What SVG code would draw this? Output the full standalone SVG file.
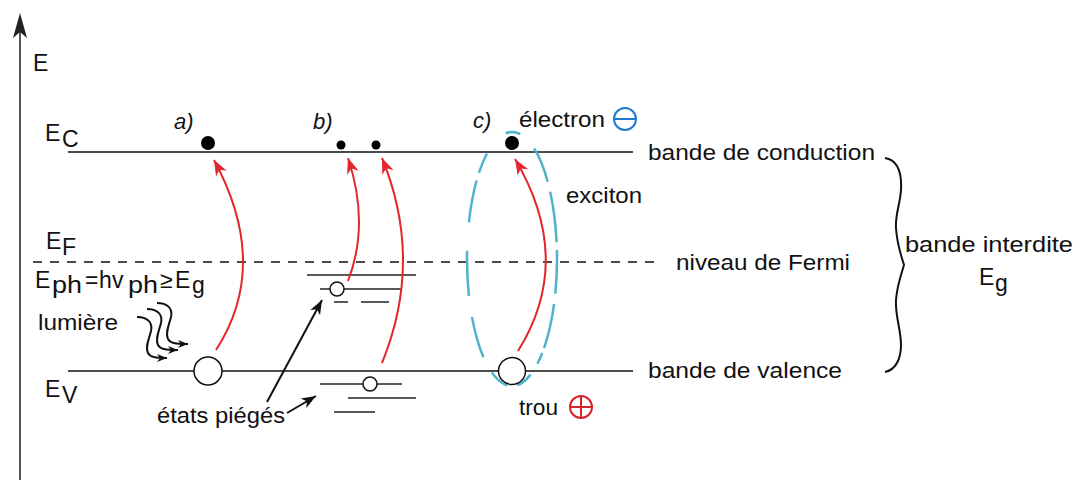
<svg xmlns="http://www.w3.org/2000/svg" width="1077" height="480" viewBox="0 0 1077 480">
<style>
text{font-family:"Liberation Sans",Arial,sans-serif;font-size:22px;fill:#111}
.big{font-size:23px}
.it{font-style:italic}
.band{stroke:#111;stroke-width:1.6;fill:none}
.trap{stroke:#222;stroke-width:1.5;fill:none}
.red{stroke:#e3262a;stroke-width:2;fill:none}
.blk{stroke:#111;stroke-width:2;fill:none}
.hole{fill:#fff;stroke:#111;stroke-width:1.5}
.el{fill:#000}
</style>
<defs>
<marker id="rh" markerUnits="userSpaceOnUse" markerWidth="20" markerHeight="20" viewBox="-16 -8 18 16" refX="0" refY="0" orient="auto"><path d="M0,0 L-14,-5.5 L-10,0 L-14,5.5 Z" fill="#e3262a"/></marker>
<marker id="bh" markerUnits="userSpaceOnUse" markerWidth="20" markerHeight="20" viewBox="-16 -8 18 16" refX="0" refY="0" orient="auto"><path d="M0,0 L-13,-5 L-9.5,0 L-13,5 Z" fill="#111"/></marker>
<marker id="sh" markerUnits="userSpaceOnUse" markerWidth="14" markerHeight="14" viewBox="-12 -6 14 12" refX="0" refY="0" orient="auto"><path d="M0,0 L-10,-4 L-7,0 L-10,4 Z" fill="#111"/></marker>
</defs>

<g id="axis">
<line x1="20" y1="480" x2="20" y2="30" stroke="#555" stroke-width="2"/>
<polygon points="20,13 13,38 20,32 27,38" fill="#222"/>
<text class="big" x="33" y="71">E</text>
</g>

<g id="levels">
<line class="band" x1="68" y1="152" x2="633" y2="152"/>
<line class="band" x1="68" y1="371" x2="633" y2="371"/>
<line x1="33" y1="262" x2="658" y2="262" stroke="#111" stroke-width="1.5" stroke-dasharray="9 8"/>
<text class="big" x="45" y="141">E<tspan x="62" y="147">C</tspan></text>
<text class="big" x="46" y="249">E<tspan x="62" y="255">F</tspan></text>
<text class="big" x="45" y="397">E<tspan x="62" y="403">V</tspan></text>
<text x="648" y="160" textLength="227" lengthAdjust="spacingAndGlyphs">bande de conduction</text>
<text x="676" y="270" textLength="174" lengthAdjust="spacingAndGlyphs">niveau de Fermi</text>
<text x="648" y="378" textLength="194" lengthAdjust="spacingAndGlyphs">bande de valence</text>
</g>

<g id="gap">
<path d="M885,158 C897,160 902,172 901,190 C900,205 895,215 896,228 C897,245 902,258 904,265 C902,272 897,285 896,300 C895,315 901,330 901,345 C901,360 895,370 885,372" stroke="#111" stroke-width="2" fill="none"/>
<text x="905" y="252" textLength="168" lengthAdjust="spacingAndGlyphs">bande interdite</text>
<text class="big" x="979" y="285">E<tspan x="995" y="291">g</tspan></text>
</g>

<g id="light">
<text class="big" x="35" y="288">E<tspan x="52" y="293" textLength="30" lengthAdjust="spacingAndGlyphs">ph</tspan><tspan x="85" y="288">=</tspan><tspan x="99" y="288">h</tspan><tspan x="112" y="288">v</tspan><tspan x="128" y="293" textLength="30" lengthAdjust="spacingAndGlyphs">ph</tspan><tspan x="160" y="288">≥</tspan><tspan x="175" y="288">E</tspan><tspan x="192" y="293">g</tspan></text>
<text x="38" y="330" textLength="80" lengthAdjust="spacingAndGlyphs">lumière</text>
<path class="blk" transform="translate(137,317)" d="M0,0 C10,0 16,5 14,14 C12,22 8,30 11,36 C13,40 18,41 30,41" marker-end="url(#sh)"/>
<path class="blk" transform="translate(147,309)" d="M0,0 C10,0 16,5 14,14 C12,22 8,30 11,36 C13,40 18,41 31,41" marker-end="url(#sh)"/>
<path class="blk" transform="translate(157,303)" d="M0,0 C10,0 16,5 14,14 C12,22 8,30 11,36 C13,40 18,41 31,41" marker-end="url(#sh)"/>
</g>

<g id="case-a">
<text class="it" x="174" y="129">a)</text>
<circle class="el" cx="208" cy="143" r="7"/>
<circle class="hole" cx="208" cy="371" r="14"/>
<path class="red" d="M216,350 Q271,265 214,160" marker-end="url(#rh)"/>
</g>

<g id="case-b">
<text class="it" x="313" y="129">b)</text>
<circle class="el" cx="341" cy="145" r="4.5"/>
<circle class="el" cx="376" cy="145" r="4.5"/>
<line class="trap" x1="307" y1="275" x2="416" y2="275"/>
<line class="trap" x1="320" y1="289" x2="402" y2="289"/>
<line class="trap" x1="334" y1="302" x2="348" y2="302"/>
<line class="trap" x1="361" y1="302" x2="389" y2="302"/>
<circle class="hole" cx="337" cy="289" r="7"/>
<line class="trap" x1="320" y1="384" x2="402" y2="384"/>
<line class="trap" x1="348" y1="398" x2="416" y2="398"/>
<line class="trap" x1="334" y1="412" x2="375" y2="412"/>
<circle class="hole" cx="370" cy="384" r="7"/>
<path class="red" d="M348,281 Q370,224 348,158" marker-end="url(#rh)"/>
<path class="red" d="M382,363 Q424,260 382,158" marker-end="url(#rh)"/>
</g>

<g id="traps-label">
<text x="157" y="423" textLength="128" lengthAdjust="spacingAndGlyphs">états piégés</text>
</g>

<g id="case-c">
<text class="it" x="473" y="128">c)</text>
<ellipse cx="512" cy="259" rx="45" ry="127" fill="none" stroke="#4fb3cc" stroke-width="2.5" pathLength="567.2" stroke-dasharray="34.5 10.2 45 5.2 11.7 12.7 17 10.3 20.4 17 42 21 45 28 42 8 21 28 15 20 36 10 50.5 7.5 9.2"/>
<circle class="el" cx="512" cy="143" r="7"/>
<circle class="hole" cx="512" cy="371" r="13.5"/>
<path class="red" d="M518,351 Q575,260 515,159" marker-end="url(#rh)"/>
<text x="519" y="127" textLength="86" lengthAdjust="spacingAndGlyphs">électron</text>
<circle cx="625" cy="119" r="11" fill="none" stroke="#1e7ad0" stroke-width="2"/>
<line x1="615" y1="119" x2="635" y2="119" stroke="#1e7ad0" stroke-width="2"/>
<text x="566" y="203" textLength="76" lengthAdjust="spacingAndGlyphs">exciton</text>
<text x="519" y="415" textLength="39" lengthAdjust="spacingAndGlyphs">trou</text>
<circle cx="581" cy="407" r="11" fill="none" stroke="#d9232a" stroke-width="2"/>
<line x1="571" y1="407" x2="591" y2="407" stroke="#d9232a" stroke-width="2"/>
<line x1="581" y1="397" x2="581" y2="417" stroke="#d9232a" stroke-width="2"/>
</g>

<g id="connectors">
<line class="blk" x1="267" y1="402" x2="322" y2="300" marker-end="url(#bh)"/>
<line class="blk" x1="287" y1="413" x2="316" y2="396" marker-end="url(#bh)"/>
</g>
</svg>
